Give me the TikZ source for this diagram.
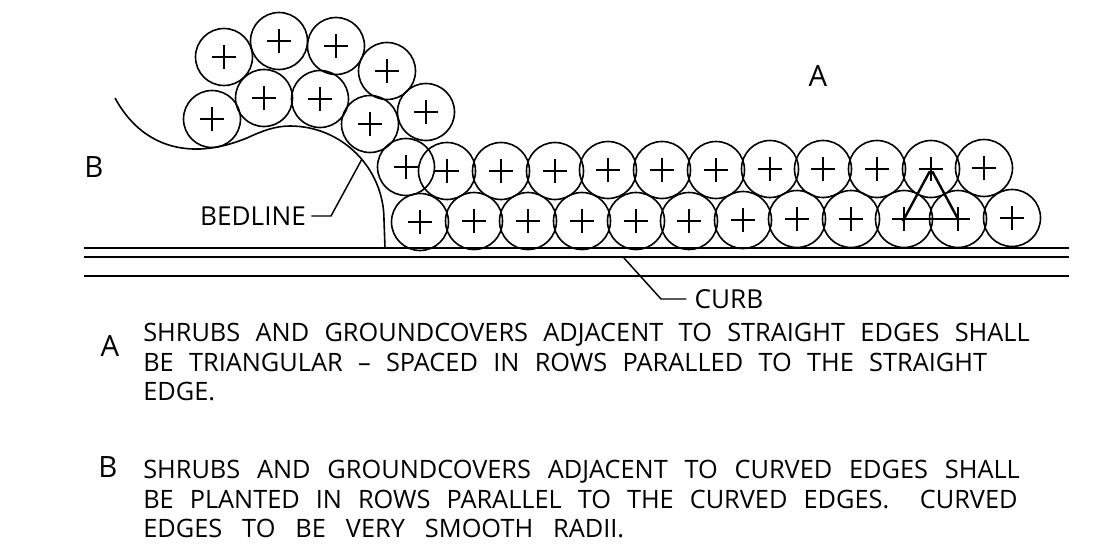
\documentclass[tikz,border=0pt]{standalone}
\usepackage{fontspec}
\setmainfont{Open Sans}
\usetikzlibrary{positioning}
\newcommand{\notefont}{\fontsize{19}{22.1}\selectfont}
\newcommand{\gaps}[1]{\spaceskip=#1\relax}
\tikzset{
  plant/.style={circle,draw,line width=1.2pt,minimum size=42.75pt,inner sep=0pt,
    path picture={\draw[line width=1.2pt] ([xshift=-9pt]path picture bounding box.center) -- ([xshift=9pt]path picture bounding box.center)
      ([yshift=-9pt]path picture bounding box.center) -- ([yshift=9pt]path picture bounding box.center);}},
  curbline/.style={line width=1.7pt},
  bed/.style={line width=1.2pt},
  lead/.style={line width=1.1pt},
  tri/.style={line width=1.8pt},
  note/.style={inner sep=0pt,anchor=north west,align=left,font=\notefont},
  tag/.style={inner sep=0pt,font=\fontsize{22}{24}\selectfont},
  call/.style={inner sep=0pt,font=\fontsize{19.6}{22}\selectfont}
}
\begin{document}
\begin{tikzpicture}[x=.75pt,y=-.75pt]
  \useasboundingbox (0,0) rectangle (1099,550);
  % curved bed plants
  \foreach \nm/\px/\py in {a/224/57,b/279/41,c/336/46,d/387/71,e/426/112,f/370/124,g/320/99,h/264/98,i/212/119,j/406/167}
    \node[plant] (\nm) at (\px,\py) {};
  % upper row
  \foreach \nm/\px/\py in {u1/447/171,u2/501/171,u3/555/171,u4/608/170,u5/662/170,u6/716/170,u7/770/169,u8/823/169,u9/877/169,u10/931/169,u11/984/168}
    \node[plant] (\nm) at (\px,\py) {};
  % lower row
  \foreach \nm/\px/\py in {l1/420/222,l2/474/221,l3/528/221,l4/582/221,l5/636/221,l6/689/221,l7/743/220,l8/797/219,l9/851/219,l10/904/219,l11/958/219,l12/1012/218}
    \node[plant] (\nm) at (\px,\py) {};
  % curb
  \coordinate (c1l) at (84,248);
  \coordinate (c1r) at (1069,248);
  \coordinate (c2l) at (84,257);
  \coordinate (c2r) at (1069,257);
  \coordinate (c3l) at (84,276);
  \coordinate (c3r) at (1069,276);
  \draw[curbline] (c1l) -- (c1r);
  \draw[curbline] (c2l) -- (c2r);
  \draw[curbline] (c3l) -- (c3r);
  % bedline
  \draw[bed] (115,98) .. controls (138,140) and (172,150) .. (200,149)
    .. controls (218,148) and (232,144) .. (247,138)
    .. controls (262,131) and (275,126) .. (290,126)
    arc (-90:0:94) -- (385,248);
  % triangle
  \draw[tri,shorten <=-2pt,shorten >=2pt] (l10.center) -- (u10.center);
  \draw[tri,shorten <=-1pt,shorten >=2pt] (l11.center) -- (u10.center);
  \draw[tri,shorten <=3pt,shorten >=1.5pt] (l10.center) -- (l11.center);
  % labels
  \node[call] (bedlbl) at (253,216) {BEDLINE};
  \coordinate (bedknee) at (331,216);
  \coordinate (bedtip) at (362,159);
  \draw[lead] ([xshift=4pt]bedlbl.east) -- (bedknee) -- (bedtip);
  \node[call] (curblbl) at (729,299) {CURB};
  \coordinate (curbknee) at (661,299);
  \coordinate (curbtip) at (624,258);
  \draw[lead] ([xshift=-6pt]curblbl.west) -- (curbknee) -- (curbtip);
  \node[tag] (tagA) at (818,76) {A};
  \node[tag] (tagB) at (94,167) {B};
  \node[tag] (noteA) at (110,346) {A};
  \node[tag] (noteB) at (108,467) {B};
  \node[note] (textA) at (143,323) {\gaps{11.5pt}SHRUBS AND GROUNDCOVERS ADJACENT TO STRAIGHT EDGES SHALL\\
    \gaps{11.5pt}BE TRIANGULAR – SPACED IN ROWS PARALLED TO THE STRAIGHT\\
    EDGE.};
  \node[note] (textB) at (143,460) {\gaps{12.6pt}SHRUBS AND GROUNDCOVERS ADJACENT TO CURVED EDGES SHALL\\
    \gaps{12pt}BE PLANTED IN ROWS PARALLEL TO THE CURVED EDGES.\hspace{11pt} CURVED\\
    \gaps{15pt}EDGES TO BE VERY SMOOTH RADII.};
\end{tikzpicture}
\end{document}
